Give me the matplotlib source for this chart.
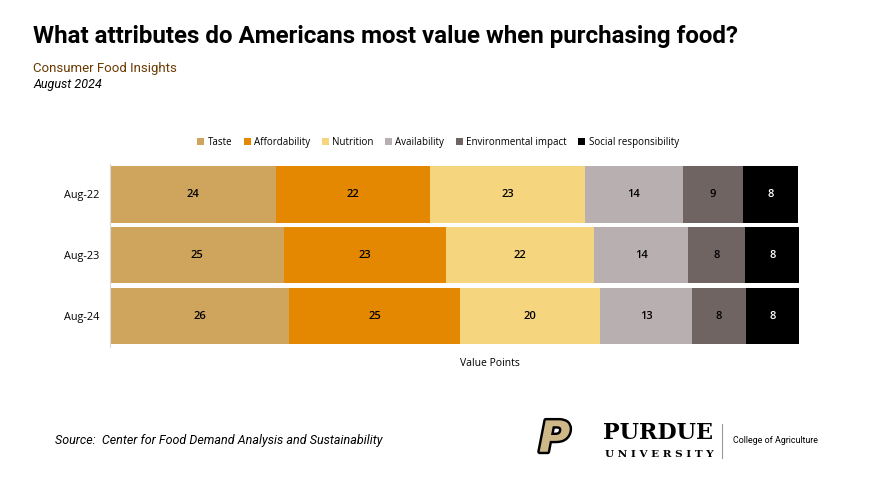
import matplotlib
matplotlib.use("Agg")
import matplotlib.pyplot as plt
import matplotlib.patheffects as pe
import numpy as np

# data (share of value points, %)
periods = ["Aug-22", "Aug-23", "Aug-24"]
attributes = ["Taste", "Affordability", "Nutrition", "Availability",
              "Environmental impact", "Social responsibility"]
taste = [24.1, 25.3, 26.0]
affordability = [22.3, 23.4, 24.8]
nutrition = [22.6, 21.6, 20.3]
availability = [14.1, 13.6, 13.4]
environmental = [8.7, 8.3, 7.8]
social = [8.1, 7.8, 7.7]

colors = ["#CFA55D", "#E38800", "#F6D57F", "#B8AFB0", "#706462", "#000000"]
label_colors = ["black", "black", "black", "black", "black", "white"]

series = [taste, affordability, nutrition, availability, environmental, social]

fig = plt.figure(figsize=(8.76, 4.93), dpi=100)
fig.patch.set_facecolor("white")

# titles
fig.text(0.038, 0.925, "What attributes do Americans most value when purchasing food?",
         fontsize=17.4, fontweight="bold", family="Roboto", va="center", ha="left")
fig.text(0.038, 0.862, "Consumer Food Insights", fontsize=9.5, family="Roboto",
         color="#6B3A00", va="center", ha="left")
fig.text(0.038, 0.829, "August 2024", fontsize=9, family="Roboto", style="italic",
         va="center", ha="left")

ax = fig.add_axes([0.1256, 0.297, 0.7866, 0.371])
y = np.arange(len(periods))
left = np.zeros(len(periods))
for name, vals, c, lc in zip(attributes, series, colors, label_colors):
    vals = np.array(vals)
    ax.barh(y, vals, left=left, height=0.93, color=c, label=name)
    for yi, l, v in zip(y, left, vals):
        ax.text(l + v / 2, yi, "{:.0f}".format(v), ha="center", va="center",
                fontsize=8, fontweight="semibold", color=lc, family="Open Sans")
    left += vals

ax.set_xlim(0, 100)
ax.set_ylim(2.5, -0.5)
ax.set_yticks(y)
ax.set_yticklabels(periods, fontsize=7.8, family="Open Sans")
ax.tick_params(axis="y", length=0, pad=8)
ax.set_xticks([])
for s in ["top", "right", "bottom"]:
    ax.spines[s].set_visible(False)
ax.spines["left"].set_color("#D9D9D9")
ax.set_xlabel("Value Points", fontsize=7.5, family="Open Sans")
ax.xaxis.set_label_coords(0.5515, -0.06)

fig.legend(loc="center", bbox_to_anchor=(0.5, 0.711), ncol=6, frameon=False,
           prop={"family": "Open Sans", "size": 7}, handlelength=0.7,
           handleheight=0.7, handletextpad=0.35, columnspacing=1.2)

# footer
fig.text(0.063, 0.106, "Source:  Center for Food Demand Analysis and Sustainability",
         fontsize=9, style="italic", family="Roboto", va="center", ha="left")

# Purdue logo (approximation)
fig.text(0.615, 0.108, "P", fontsize=31, fontweight="black", style="italic",
         family="DejaVu Sans", color="#CEB888", va="center", ha="left",
         path_effects=[pe.withStroke(linewidth=3.5, foreground="black")])
fig.text(0.688, 0.122, "PURDUE", fontsize=16, fontweight="bold", family="DejaVu Serif",
         va="center", ha="left")
fig.text(0.691, 0.079, "U N I V E R S I T Y", fontsize=7.5, fontweight="bold",
         family="DejaVu Serif", va="center", ha="left")
fig.add_artist(plt.Line2D([0.824, 0.824], [0.07, 0.14], color="#999999", lw=0.8,
                          transform=fig.transFigure))
fig.text(0.837, 0.106, "College of Agriculture", fontsize=6.4, family="Roboto",
         va="center", ha="left")

fig.savefig("out.png", dpi=100)
